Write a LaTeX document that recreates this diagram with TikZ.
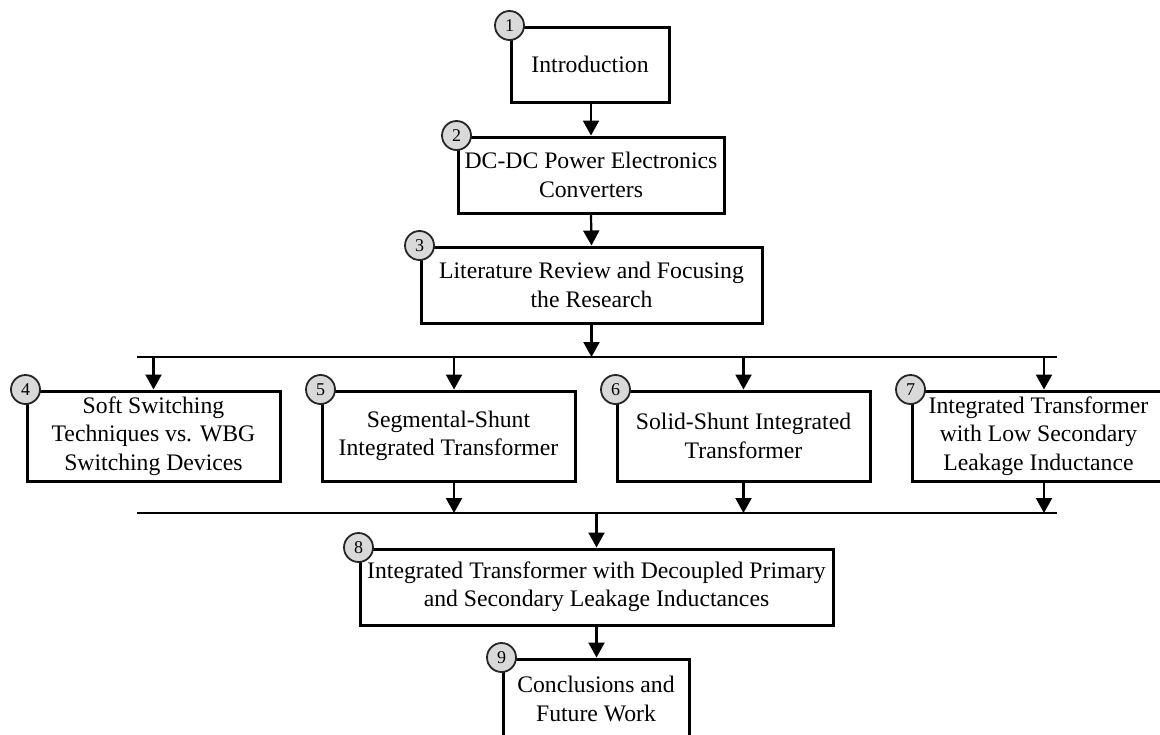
\documentclass[tikz,border=0pt]{standalone}
\usepackage{fontspec}
\setmainfont{Liberation Serif}
\usetikzlibrary{arrows.meta,calc}

\begin{document}
\begin{tikzpicture}[x=0.5pt, y=-0.5pt, >={Triangle[length=7.5pt,width=8pt]}, font=\fontsize{11.85pt}{14.2pt}\selectfont]
	\tikzstyle{box}=[draw=black, line width=1.5pt, rectangle, align=center, inner sep=0pt, minimum height=38pt]
	\tikzstyle{num}=[draw=black!85, fill=black!15, line width=0.9pt, circle, minimum size=14.5pt, inner sep=0pt, font=\fontsize{9pt}{10pt}\selectfont]
	\tikzstyle{bus}=[line width=1.1pt]
	\tikzstyle{arr}=[->, line width=1.1pt]
	\useasboundingbox (0,0) rectangle (1160,734);

	\node[box, minimum width=79pt, minimum height=37.5pt] (intro) at (590,64.5) {Introduction};
	\node[box, minimum width=133pt] (conv) at (591,175) {DC-DC Power Electronics\\Converters};
	\node[box, minimum width=170.5pt] (lit) at (591.5,285) {Literature Review and Focusing\\the Research};
	\node[box, minimum width=126.5pt, minimum height=45pt] (soft) at (153.5,436) {Soft Switching\\Techniques vs. WBG\\Switching Devices};
	\node[box, minimum width=126.5pt, minimum height=45pt] (seg) at (448.5,436) {Segmental-Shunt\\Integrated Transformer};
	\node[box, minimum width=126.5pt, minimum height=45pt] (solid) at (743.5,436) {Solid-Shunt Integrated\\Transformer};
	\node[box, minimum width=126.5pt, minimum height=45pt] (low) at (1038.5,436) {Integrated Transformer\\with Low Secondary\\Leakage Inductance};
	\node[box, minimum width=236.5pt] (dec) at (596.5,587) {Integrated Transformer with Decoupled Primary\\and Secondary Leakage Inductances};
	\node[box, minimum width=93pt, minimum height=40pt] (concl) at (596,699) {Conclusions and\\Future Work};

	% buses
	\coordinate (topL) at (137,357);
	\coordinate (topR) at (1057,357);
	\coordinate (botL) at (137,513);
	\coordinate (botR) at (1057,513);
	\coordinate (segIn) at ([xshift=2.75pt]seg.north);
	\coordinate (segOut) at ([xshift=2.75pt]seg.south);
	\coordinate (lowIn) at ([xshift=2.75pt]low.north);
	\coordinate (lowOut) at ([xshift=2.75pt]low.south);
	\draw[bus] (topL) -- (topR);
	\draw[bus] (botL) -- (botR);

	\draw[arr] (intro.south -| conv.north) -- (conv.north);
	\draw[arr] (conv.south) -- (lit.north);
	\draw[arr] (lit.south) -- (lit.south |- topL);
	\draw[arr] (soft.north |- topL) -- (soft.north);
	\draw[arr] (segIn |- topL) -- (segIn);
	\draw[arr] (solid.north |- topL) -- (solid.north);
	\draw[arr] (lowIn |- topL) -- (lowIn);
	\draw[arr] (segOut) -- (segOut |- botL);
	\draw[arr] (solid.south) -- (solid.south |- botL);
	\draw[arr] (lowOut) -- (lowOut |- botL);
	\draw[arr] (dec.north |- botL) -- (dec.north);
	\draw[arr] (dec.south) -- (dec.south |- concl.north);

	\foreach \b/\n in {intro/1, conv/2, lit/3, soft/4, seg/5, solid/6, low/7, dec/8, concl/9}
		\node[num] (n\n) at (\b.north west) {\n};
\end{tikzpicture}
\end{document}
